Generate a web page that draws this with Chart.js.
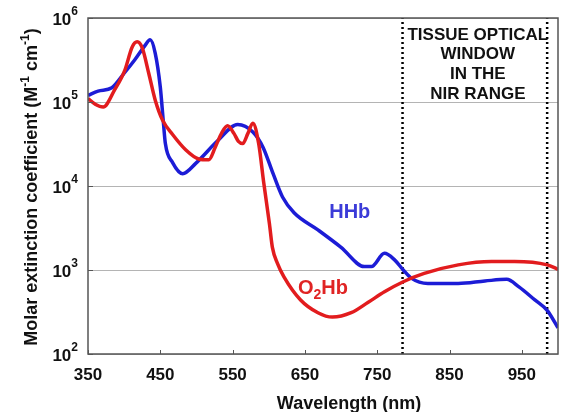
<!DOCTYPE html>
<html>
<head>
<meta charset="utf-8">
<script src="https://cdn.jsdelivr.net/npm/chart.js@4.4.0/dist/chart.umd.min.js"></script>
<style>
  html, body { margin: 0; padding: 0; background: #fff; }
  .spectra-box { width: 563px; height: 412px; }
</style>
</head>
<body>
<div class="spectra-box"><canvas id="spectra-chart"></canvas></div>
<script>
// values (wavelength in nm, extinction in M-1 cm-1)
const o2hbWavelengths = [350, 360, 371, 387, 401, 411, 418, 425, 434, 443, 453, 467, 485, 503, 517, 526, 535, 543, 552, 558, 564, 571, 578, 586, 593, 601, 605, 612, 621, 644, 668, 688, 714, 737, 760, 786, 815, 862, 908, 940, 985, 1000];
const o2hbValues = [110000, 94000, 87000, 140000, 240000, 450000, 520000, 440000, 220000, 105000, 61000, 41000, 27000, 21000, 20500, 29000, 43000, 52000, 42000, 34000, 32000, 42000, 56000, 32000, 11000, 3500, 1860, 1200, 830, 440, 310, 275, 310, 410, 550, 725, 910, 1150, 1260, 1260, 1150, 1020];

const hhbWavelengths = [350, 364, 383, 400, 415, 428, 436, 443, 450, 454, 457, 467, 481, 499, 530, 557, 578, 592, 606, 619, 635, 668, 700, 732, 742, 760, 774, 786, 797, 820, 862, 899, 929, 946, 968, 985, 1000];
const hhbValues = [120000, 135000, 148000, 220000, 320000, 460000, 550000, 380000, 150000, 61000, 32000, 19000, 14000, 18600, 35000, 54000, 44000, 29000, 14000, 7400, 4800, 3000, 1860, 1100, 1100, 1580, 1320, 1000, 800, 690, 690, 740, 775, 630, 440, 330, 205];

const windowEdges = [785, 985];
const xTicks = [350, 450, 550, 650, 750, 850, 950];
const yExponents = [2, 3, 4, 5, 6];
const windowLabel = ['TISSUE OPTICAL', 'WINDOW', 'IN THE', 'NIR RANGE'];

const FONT = '"Liberation Sans", Arial, sans-serif';

function toPoints(xs, ys) {
  return xs.map((x, i) => ({ x: x, y: ys[i] }));
}

// one dataset per dotted boundary of the optical window
const edgeSets = windowEdges.map(w => ({
  data: [{ x: w, y: 100 }, { x: w, y: 1000000 }],
  borderColor: '#000',
  borderWidth: 2.5,
  borderDash: [2, 3],
  pointRadius: 0,
  tension: 0
}));

// draws text pieces in a row, some of them raised or lowered
function drawPieces(ctx, pieces, startX, y) {
  let cx = startX;
  pieces.forEach(p => {
    ctx.font = p.font;
    ctx.fillText(p.text, cx, y + (p.dy || 0));
    cx += ctx.measureText(p.text).width;
  });
}
function piecesWidth(ctx, pieces) {
  return pieces.reduce((w, p) => { ctx.font = p.font; return w + ctx.measureText(p.text).width; }, 0);
}

// frame, superscript tick labels, axis titles and the text labels
const decorations = {
  id: 'decorations',
  afterDraw(chart) {
    const ctx = chart.ctx;
    const area = chart.chartArea;
    const xs = chart.scales.x;
    const ys = chart.scales.y;
    ctx.save();

    ctx.strokeStyle = '#555';
    ctx.lineWidth = 1.5;
    ctx.strokeRect(area.left, area.top, area.right - area.left, area.bottom - area.top);

    // inward tick marks
    ctx.lineWidth = 1;
    ctx.beginPath();
    xTicks.forEach(v => {
      const px = Math.round(xs.getPixelForValue(v)) + 0.5;
      ctx.moveTo(px, area.bottom);
      ctx.lineTo(px, area.bottom - 4);
    });
    yExponents.forEach(e => {
      const py = Math.round(ys.getPixelForValue(Math.pow(10, e))) + 0.5;
      ctx.moveTo(area.left, py);
      ctx.lineTo(area.left + 5, py);
    });
    ctx.stroke();

    // y tick labels as 10^n
    ctx.fillStyle = '#111';
    ctx.textBaseline = 'middle';
    yExponents.forEach(e => {
      const py = ys.getPixelForValue(Math.pow(10, e));
      ctx.font = 'bold 12px ' + FONT;
      ctx.textAlign = 'left';
      const expW = ctx.measureText(String(e)).width;
      ctx.fillText(String(e), 78 - expW, py - 6);
      ctx.font = 'bold 17px ' + FONT;
      ctx.textAlign = 'right';
      ctx.fillText('10', 78 - expW, py + 2);
    });

    ctx.textAlign = 'left';
    ctx.textBaseline = 'alphabetic';

    // y axis title, rotated, with superscripts
    const big = 'bold 18px ' + FONT;
    const small = 'bold 12px ' + FONT;
    const yTitle = [
      { text: 'Molar extinction coefficient (M', font: big },
      { text: '-1', font: small, dy: -8 },
      { text: ' cm', font: big },
      { text: '-1', font: small, dy: -8 },
      { text: ')', font: big }
    ];
    ctx.translate(37, 187);
    ctx.rotate(-Math.PI / 2);
    drawPieces(ctx, yTitle, -piecesWidth(ctx, yTitle) / 2, 0);
    ctx.setTransform(1, 0, 0, 1, 0, 0);

    // x axis title
    ctx.font = big;
    ctx.textAlign = 'center';
    ctx.fillText('Wavelength (nm)', 349, 409);

    // series labels
    ctx.textBaseline = 'middle';
    ctx.font = 'bold 20px ' + FONT;
    ctx.fillStyle = '#3b3bd8';
    ctx.fillText('HHb', xs.getPixelForValue(712), ys.getPixelForValue(4800));

    ctx.fillStyle = '#e02424';
    ctx.textAlign = 'left';
    const o2 = [
      { text: 'O', font: 'bold 20px ' + FONT },
      { text: '2', font: 'bold 14px ' + FONT, dy: 7 },
      { text: 'Hb', font: 'bold 20px ' + FONT }
    ];
    drawPieces(ctx, o2, xs.getPixelForValue(675) - piecesWidth(ctx, o2) / 2, ys.getPixelForValue(600));

    // window caption
    ctx.fillStyle = '#111';
    ctx.textAlign = 'center';
    ctx.font = 'bold 17px ' + FONT;
    const mid = (xs.getPixelForValue(windowEdges[0]) + xs.getPixelForValue(windowEdges[1])) / 2 + 3;
    windowLabel.forEach((line, i) => {
      ctx.fillText(line, mid, 35 + i * 19.7);
    });

    ctx.restore();
  }
};

const ctx = document.getElementById('spectra-chart').getContext('2d');
new Chart(ctx, {
  type: 'line',
  data: {
    datasets: [
      {
        label: 'O2Hb',
        data: toPoints(o2hbWavelengths, o2hbValues),
        borderColor: 'rgb(226, 28, 30)',
        borderWidth: 3.5,
        pointRadius: 0,
        cubicInterpolationMode: 'monotone'
      },
      {
        label: 'HHb',
        data: toPoints(hhbWavelengths, hhbValues),
        borderColor: 'rgb(28, 28, 214)',
        borderWidth: 3.5,
        pointRadius: 0,
        cubicInterpolationMode: 'monotone'
      },
      ...edgeSets
    ]
  },
  options: {
    responsive: true,
    maintainAspectRatio: false,
    animation: false,
    layout: { padding: { top: 18, right: 5, left: 0, bottom: 0 } },
    plugins: {
      legend: { display: false },
      tooltip: { enabled: false }
    },
    scales: {
      x: {
        type: 'linear',
        min: 350,
        max: 1000,
        afterBuildTicks: s => { s.ticks = xTicks.map(v => ({ value: v })); },
        afterFit: s => { s.height = 58; },
        border: { display: false },
        grid: { display: false, drawTicks: false },
        ticks: {
          color: '#111',
          font: { family: FONT, size: 17, weight: 'bold' },
          padding: 11,
          maxRotation: 0
        }
      },
      y: {
        type: 'logarithmic',
        min: 100,
        max: 1000000,
        afterBuildTicks: s => { s.ticks = yExponents.map(e => ({ value: Math.pow(10, e) })); },
        afterFit: s => { s.width = 88; },
        border: { display: false },
        grid: { color: '#b4b4b4', lineWidth: 1, drawTicks: false },
        ticks: { display: false }
      }
    }
  },
  plugins: [decorations]
});
</script>
</body>
</html>
